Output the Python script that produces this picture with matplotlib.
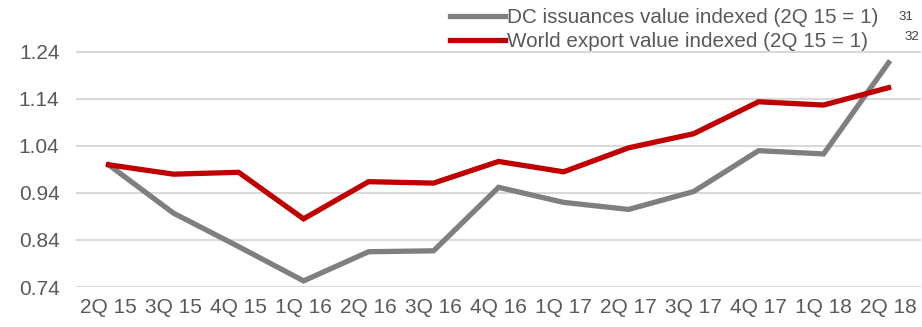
import matplotlib.pyplot as plt

plt.rcParams["font.family"] = ["Liberation Sans", "DejaVu Sans"]

quarters = ["2Q 15", "3Q 15", "4Q 15", "1Q 16", "2Q 16", "3Q 16", "4Q 16",
            "1Q 17", "2Q 17", "3Q 17", "4Q 17", "1Q 18", "2Q 18"]
dc_issuances = [1.000, 0.897, 0.826, 0.753, 0.815, 0.817, 0.952,
                0.920, 0.905, 0.943, 1.030, 1.023, 1.217]
world_export = [1.000, 0.980, 0.984, 0.885, 0.964, 0.961, 1.007,
                0.985, 1.036, 1.066, 1.134, 1.127, 1.164]
y_ticks = [0.74, 0.84, 0.94, 1.04, 1.14, 1.24]

GRAY = "#7f7f7f"
RED = "#c00000"
TEXT = "#595959"

fig = plt.figure(figsize=(9.22, 3.27), dpi=100)
ax = fig.add_axes([0.0825, 0.1223, 0.9165, 0.8627])

x = range(len(quarters))
ax.plot(x, dc_issuances, color=GRAY, lw=3.8, solid_joinstyle="miter",
        label="DC issuances value indexed (2Q 15 = 1)")
ax.plot(x, world_export, color=RED, lw=3.8, solid_joinstyle="miter",
        label="World export value indexed (2Q 15 = 1)")

ax.set_xlim(-0.5, len(quarters) - 0.5)
ax.set_ylim(0.74, 1.34)
ax.set_yticks(y_ticks)
ax.set_yticklabels([f"{v:.2f}" for v in y_ticks])
ax.set_xticks(list(x))
ax.set_xticklabels(quarters)
ax.tick_params(length=0, labelsize=15, labelcolor=TEXT)
ax.tick_params(axis="y", pad=12)
ax.tick_params(axis="x", pad=8)
ax.grid(axis="y", color="#d9d9d9", lw=1.5)
ax.set_axisbelow(True)
for s in ax.spines.values():
    s.set_visible(False)

leg = fig.legend(loc="upper right", bbox_to_anchor=(0.962, 1.0), frameon=False,
                 fontsize=14.9, handlelength=2.65, handletextpad=0.1,
                 labelspacing=0.22, borderaxespad=0)
for t in leg.get_texts():
    t.set_color(TEXT)

# footnote markers next to the legend entries
fig.text(0.982, 0.939, "31", fontsize=9.5, color="#404040", ha="center")
fig.text(0.989, 0.879, "32", fontsize=9.5, color="#404040", ha="center")

fig.savefig("out.png", dpi=100)
